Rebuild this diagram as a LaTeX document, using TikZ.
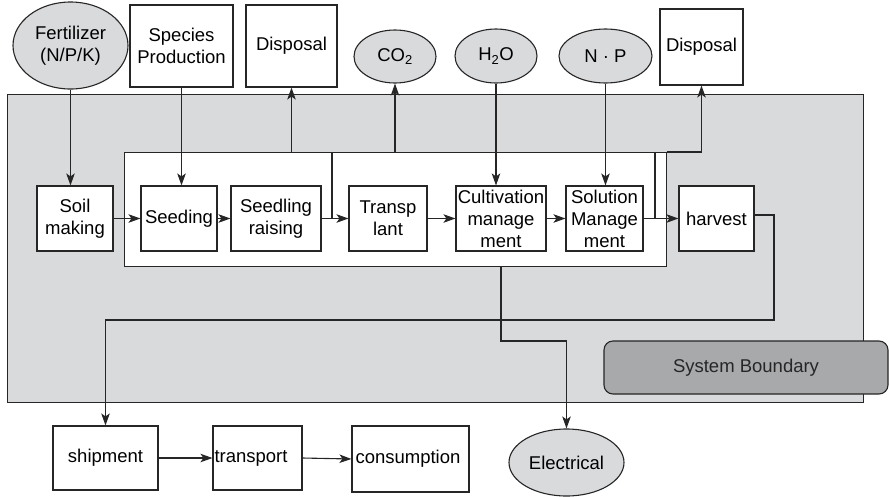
\documentclass[tikz,border=0pt]{standalone}
\usepackage{fontspec}
\setmainfont{Liberation Sans}
\usetikzlibrary{shapes.geometric,arrows.meta}
\definecolor{lineGray}{HTML}{262626}
\definecolor{fillGray}{HTML}{D9DADC}
\definecolor{darkGray}{HTML}{A8A9AB}

\begin{document}
\begin{tikzpicture}
[x=1pt,y=-1pt,font=\fontsize{18.5}{22}\selectfont,
  boxDecorate/.style={shape=rectangle,draw=lineGray,fill=white,line width=1.1pt,align=center,inner sep=1pt},%
  ellipseDecorate/.style={shape=ellipse,draw=lineGray,fill=fillGray,line width=1.1pt,align=center,inner sep=0pt},%
  lineDecorate/.style={-,draw=lineGray,line width=1.1pt},%
  arrowDecorate/.style={lineDecorate,-{Stealth[length=12pt,width=8.5pt,inset=3pt]}}]
\useasboundingbox (0,0) rectangle (889,496);
%% system boundary and inner process frame
\node (boundary) at (7,94) [anchor=north west,draw=lineGray,fill=fillGray,line width=1.1pt,
  minimum width=856pt,minimum height=308pt,inner sep=0pt] {};
\node (inner) at (124,152) [anchor=north west,draw=lineGray,fill=white,line width=1.1pt,
  minimum width=542pt,minimum height=114pt,inner sep=0pt] {};
\node (sysbound) at (746,367.5) [draw=lineGray,fill=darkGray,line width=1.1pt,rounded corners=9pt,
  minimum width=284pt,minimum height=53pt,text=lineGray] {System Boundary};
%% inputs and outputs on top
\node (fert) at (70.5,45.5) [ellipseDecorate,minimum width=115pt,minimum height=87pt] {Fertilizer\\(N/P/K)};
\node (species) at (181.5,46) [boxDecorate,minimum width=103pt,minimum height=82pt] {Species\\Production};
\node (disp1) at (291.5,46) [boxDecorate,minimum width=91pt,minimum height=82pt] {Disposal};
\node (co2) at (395,56.5) [ellipseDecorate,minimum width=82pt,minimum height=53pt] {CO\textsubscript{2}};
\node (h2o) at (496,56) [ellipseDecorate,minimum width=82pt,minimum height=54pt] {H\textsubscript{2}O};
\node (np) at (605.5,56) [ellipseDecorate,minimum width=93pt,minimum height=54pt] {N · P};
\node (disp2) at (701.5,47) [boxDecorate,minimum width=83pt,minimum height=76pt] {Disposal};
%% process chain
\foreach \nodename/\x/\w/\txt in {soil/75/76/{Soil\\making}, seeding/179/76/{Seeding},
    raising/276/90/{Seedling\\raising}, transp/388/78/{Transp\\lant},
    cult/501/90/{Cultivation\\manage\\ment}, sol/604.5/77/{Solution\\Manage\\ment},
    harvest/716.5/75/{harvest}} {
  \node (\nodename) at (\x,218.5) [boxDecorate,minimum width=\w pt,minimum height=65pt] {\txt};
}
%% after harvest
\node (ship) at (105.5,458) [boxDecorate,minimum width=105pt,minimum height=64pt] {shipment};
\node (transport) at (257.5,458) [boxDecorate,minimum width=89pt,minimum height=64pt,
  text width=86pt,align=left] {transport};
\node (consum) at (410.5,459) [boxDecorate,minimum width=117pt,minimum height=66pt,
  text width=110pt,align=left] {consumption};
\node (elec) at (566.5,462.5) [ellipseDecorate,minimum width=115pt,minimum height=67pt] {Electrical};
%% bend points
\coordinate (wasteA) at (332,218.5);
\coordinate (wasteB) at (655,218.5);
\coordinate (elecBend) at (501,341);
\coordinate (harvBend) at (774,320);
%% flows
\path
\foreach \startnode/\endnode in {soil/seeding, seeding/raising, raising/transp,
    transp/cult, cult/sol, sol/harvest, ship/transport, transport/consum} {
  (\startnode.east) edge[arrowDecorate] (\endnode.west)
};
\foreach \src/\dst in {fert/soil, species/seeding, h2o/cult, np/sol} {
  \draw[arrowDecorate] (\src.south) -- (\src.south |- \dst.north);
}
\draw[lineDecorate] (wasteA) -- (wasteA |- inner.north);
\draw[lineDecorate] (wasteB) -- (wasteB |- inner.north);
\draw[arrowDecorate] (disp1.south |- inner.north) -- (disp1.south);
\draw[arrowDecorate] (co2.south |- inner.north) -- (co2.south);
\draw[arrowDecorate] (inner.north east) -| (disp2.south);
\draw[arrowDecorate] (cult.south |- inner.south) -- (elecBend) -| (elec.north);
\draw[arrowDecorate] ([yshift=3.5pt]harvest.east) -| (harvBend) -| (ship.north);
\end{tikzpicture}
\end{document}
